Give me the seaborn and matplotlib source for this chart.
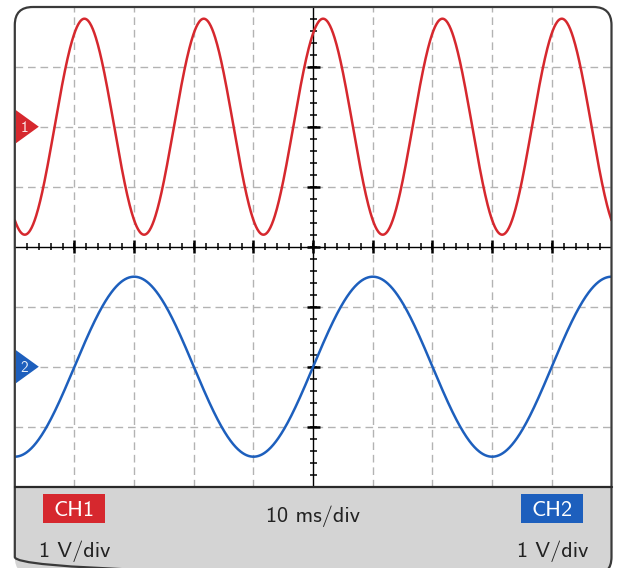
import numpy as np
import pandas as pd
import matplotlib
matplotlib.use("Agg")
import matplotlib.pyplot as plt
import seaborn as sns
from matplotlib.patches import FancyBboxPatch, Rectangle, Polygon

# ---------------- data ----------------
time_per_div_ms = 10          # 10 ms/div
volt_per_div = 1              # 1 V/div
n_hdiv = 10
n_vdiv = 8
ch_names = ["CH1", "CH2"]
ch_marks = ["1", "2"]
ch_colors = ["#d6282e", "#1d5fbd"]
ch_offset_div = [2.0, -2.0]       # ground marker position
ch_amplitude_v = [1.8, 1.5]
ch_freq_hz = [50.0, 25.0]
ch_phase_rad = [np.pi / 3, 0.0]
left_label = "1 V/div"
center_label = "10 ms/div"
right_label = "1 V/div"

# ---------------- figure ----------------
W, H = 619, 568
sns.set_style("white")
FONT = "cmss10"
fig = plt.figure(figsize=(W / 100, H / 100), dpi=100)

# screen geometry in pixels
sx0, sx1 = 14.8, 611.5
sy0, sy1 = 6.7, 486.7
fy0, fy1 = 7.0, 575.0

# background axes in pixel coords
bg = fig.add_axes([0, 0, 1, 1], zorder=0)
bg.set_xlim(0, W)
bg.set_ylim(H, 0)
bg.axis("off")
frame = FancyBboxPatch((sx0, fy0), sx1 - sx0, fy1 - fy0,
                       boxstyle="round,pad=0,rounding_size=18",
                       fc="white", ec="none", clip_on=False)
bg.add_patch(frame)
panel = Rectangle((sx0 - 5, sy1), sx1 - sx0 + 10, 100, fc="#d4d4d4", ec="none")
bg.add_patch(panel)
panel.set_clip_path(frame)

# screen axes in data units (ms, V)
ax = fig.add_axes([sx0 / W, (H - sy1) / H, (sx1 - sx0) / W, (sy1 - sy0) / H], zorder=1)
ax.set_facecolor("none")
tmax = n_hdiv / 2 * time_per_div_ms
vmax = n_vdiv / 2 * volt_per_div
ax.set_xlim(-tmax, tmax)
ax.set_ylim(-vmax, vmax)
for s in ax.spines.values():
    s.set_visible(False)
ax.set_xticks([])
ax.set_yticks([])

grid_kw = dict(color="#b3b3b3", lw=1.0, ls=(0, (5.5, 3.5)), zorder=1)
for k in range(1, n_hdiv):
    xv = -tmax + k * time_per_div_ms
    if abs(xv) > 1e-9:
        ax.axvline(xv, **grid_kw)
for k in range(1, n_vdiv):
    yv = -vmax + k * volt_per_div
    if abs(yv) > 1e-9:
        ax.axhline(yv, **grid_kw)

ax.axhline(0, color="black", lw=1.0, zorder=2)
ax.axvline(0, color="black", lw=1.0, zorder=2)

px_per_ms = (sx1 - sx0) / (2 * tmax)
px_per_v = (sy1 - sy0) / (2 * vmax)
minor_t = np.arange(-tmax + 2, tmax, time_per_div_ms / 5)
major_t = np.arange(-tmax + time_per_div_ms, tmax, time_per_div_ms)
minor_v = np.arange(-vmax + 0.2, vmax, volt_per_div / 5)
major_v = np.arange(-vmax + volt_per_div, vmax, volt_per_div)
ax.vlines(minor_t, -3.5 / px_per_v, 3.5 / px_per_v, color="black", lw=1.1, zorder=2)
ax.vlines(major_t, -6.5 / px_per_v, 6.5 / px_per_v, color="black", lw=1.8, zorder=2)
ax.hlines(minor_v, -3.5 / px_per_ms, 3.5 / px_per_ms, color="black", lw=1.1, zorder=2)
ax.hlines(major_v, -6.5 / px_per_ms, 6.5 / px_per_ms, color="black", lw=1.8, zorder=2)

# signals
t = np.linspace(-tmax, tmax, 1201)
frames = []
for name, off, amp, f, ph in zip(ch_names, ch_offset_div, ch_amplitude_v, ch_freq_hz, ch_phase_rad):
    v = off + amp * np.sin(2 * np.pi * f * t / 1000.0 + ph)
    frames.append(pd.DataFrame({"t": t, "v": v, "ch": name}))
df = pd.concat(frames, ignore_index=True)
sns.lineplot(data=df, x="t", y="v", hue="ch", palette=dict(zip(ch_names, ch_colors)),
             estimator=None, sort=False, lw=1.8, legend=False, ax=ax, zorder=3)
ax.set_xlabel("")
ax.set_ylabel("")

# ground markers
for mark, off, col in zip(ch_marks, ch_offset_div, ch_colors):
    x_left = -tmax + 1.2 / px_per_ms
    x_tip = -tmax + 24.0 / px_per_ms
    hh = 16.5 / px_per_v
    tri = Polygon([[x_left, off - hh], [x_left, off + hh], [x_tip, off]],
                  closed=True, fc=col, ec="none", zorder=4, clip_on=False)
    ax.add_patch(tri)
    ax.text(-tmax + 9.7 / px_per_ms, off, mark, color="white", alpha=0.9,
            fontsize=11, fontfamily=FONT, ha="center", va="center_baseline", zorder=5)

# foreground: frame border, separator, panel labels
fg = fig.add_axes([0, 0, 1, 1], zorder=3)
fg.set_xlim(0, W)
fg.set_ylim(H, 0)
fg.axis("off")
fg.patch.set_alpha(0)
border = FancyBboxPatch((sx0, fy0), sx1 - sx0, fy1 - fy0,
                        boxstyle="round,pad=0,rounding_size=18",
                        fc="none", ec="#3a3a3a", lw=1.6)
fg.add_patch(border)
fg.plot([sx0, sx1], [sy1, sy1], color="#2a2a2a", lw=1.6)

box_cx = [sx0 + 1 * 10 * px_per_ms, sx1 - 1 * 10 * px_per_ms]
for name, col, cx in zip(ch_names, ch_colors, box_cx):
    fg.add_patch(Rectangle((cx - 31, 494), 62, 29, fc=col, ec="none"))
    fg.text(cx, 516.5, name, color="white", fontsize=16, fontfamily=FONT,
            ha="center", va="baseline")
fg.text(box_cx[0], 557, left_label, color="#222222", fontsize=16, fontfamily=FONT,
        ha="center", va="baseline")
fg.text(box_cx[1] + 1, 557, right_label, color="#222222", fontsize=16, fontfamily=FONT,
        ha="center", va="baseline")
fg.text((sx0 + sx1) / 2, 522, center_label, color="#222222", fontsize=16, fontfamily=FONT,
        ha="center", va="baseline")

fig.savefig("out.png", dpi=100)
